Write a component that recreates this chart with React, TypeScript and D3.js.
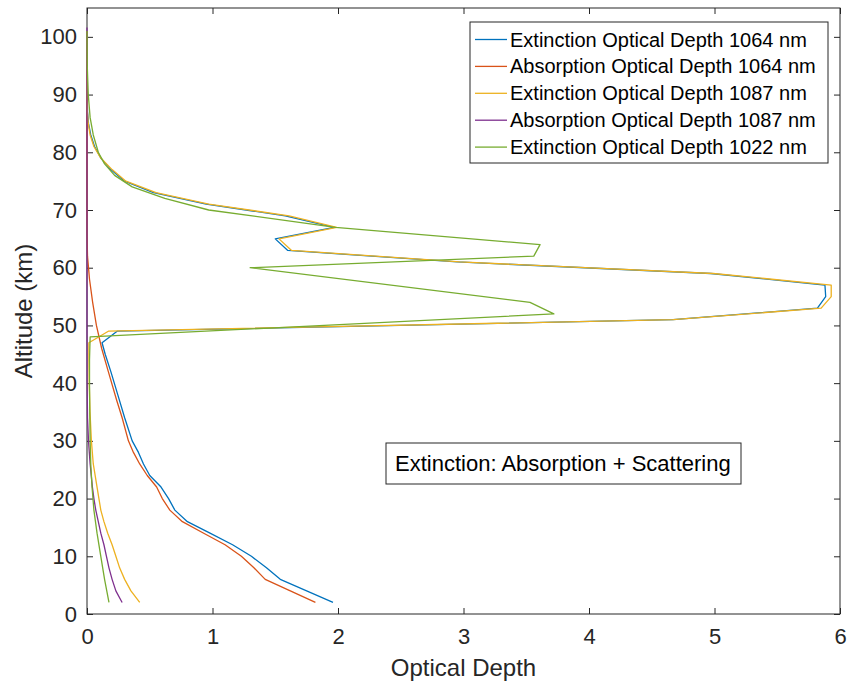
import React, { useEffect, useRef } from "react";
import * as d3 from "d3";

// [altitude km, optical depth]
const ext1064: [number, number][] = [
  [2, 1.96], [4, 1.75], [6, 1.54], [8, 1.43], [10, 1.31], [12, 1.16], [14, 0.98],
  [16, 0.8], [18, 0.7], [20, 0.65], [22, 0.59], [24, 0.5], [26, 0.45], [28, 0.41],
  [30, 0.36], [34, 0.3], [38, 0.245], [42, 0.19], [45, 0.145], [47, 0.12], [49, 0.24],
  [51, 4.67], [53, 5.82], [55, 5.886], [57, 5.88], [59, 4.97], [61, 2.95], [63, 1.6],
  [65, 1.5], [67, 1.97], [69, 1.58], [71, 0.95], [73, 0.53], [75, 0.3], [77, 0.19],
  [79, 0.11], [81, 0.06], [83, 0.03], [85, 0.012], [87, 0.004], [90, 0.001], [95, 0], [101, 0],
];
const abs1064: [number, number][] = [
  [2, 1.82], [4, 1.62], [6, 1.42], [8, 1.33], [10, 1.23], [12, 1.1], [14, 0.93],
  [16, 0.76], [18, 0.66], [20, 0.6], [22, 0.555], [24, 0.48], [26, 0.42], [28, 0.37],
  [30, 0.33], [34, 0.28], [37, 0.237], [42, 0.17], [46, 0.117], [50, 0.075], [54, 0.045],
  [58, 0.02], [62, 0.004], [66, 0], [101, 0],
];
const ext1087: [number, number][] = [
  [2, 0.42], [4, 0.35], [6, 0.3], [8, 0.26], [10, 0.23], [12, 0.2], [14, 0.165],
  [16, 0.135], [18, 0.11], [20, 0.095], [22, 0.08], [26, 0.05], [30, 0.035], [35, 0.024],
  [40, 0.018], [45, 0.015], [47, 0.015], [49, 0.17], [51, 4.67], [53, 5.85], [55, 5.93],
  [57, 5.93], [59, 4.99], [61, 2.97], [63, 1.63], [65, 1.53], [67, 1.99], [69, 1.61],
  [71, 0.97], [73, 0.55], [75, 0.31], [77, 0.2], [79, 0.11], [81, 0.055], [83, 0.025],
  [85, 0.01], [87, 0.003], [90, 0], [101, 0],
];
const abs1087: [number, number][] = [
  [2, 0.28], [4, 0.23], [6, 0.2], [8, 0.175], [10, 0.155], [12, 0.135], [14, 0.11],
  [16, 0.09], [18, 0.07], [20, 0.055], [22, 0.043], [26, 0.025], [30, 0.012], [34, 0.004],
  [40, 0.001], [50, 0], [101.6, 0],
];
const ext1022: [number, number][] = [
  [2, 0.175], [6, 0.14], [10, 0.11], [14, 0.08], [18, 0.055], [22, 0.04], [26, 0.03],
  [30, 0.025], [35, 0.022], [40, 0.02], [44, 0.02], [48, 0.025], [52, 3.72], [54, 3.53],
  [60, 1.3], [62, 3.56], [64, 3.61], [67, 1.98], [70, 0.97], [72, 0.62], [74, 0.36],
  [76, 0.22], [78, 0.14], [80, 0.09], [83, 0.05], [86, 0.025], [90, 0.01], [95, 0.002], [101, 0],
];

const seriesNames = [
  "Extinction Optical Depth 1064 nm",
  "Absorption Optical Depth 1064 nm",
  "Extinction Optical Depth 1087 nm",
  "Absorption Optical Depth 1087 nm",
  "Extinction Optical Depth 1022 nm",
];
const seriesColors = ["#0072BD", "#D95319", "#EDB120", "#7E2F8E", "#77AC30"];
const seriesData = [ext1064, abs1064, ext1087, abs1087, ext1022];

const xTicks = [0, 1, 2, 3, 4, 5, 6];
const yTicks = [0, 10, 20, 30, 40, 50, 60, 70, 80, 90, 100];

const FONT = "'Liberation Sans', Arial, Helvetica, sans-serif";
const INK = "#262626";

export default function App() {
  const ref = useRef<SVGSVGElement>(null);

  useEffect(() => {
    const width = 849;
    const height = 687;
    const margin = { top: 8, right: 9, bottom: 73, left: 87 };
    const svg = d3.select(ref.current).attr("width", width).attr("height", height);
    svg.selectAll("*").remove();

    const x = d3.scaleLinear().domain([0, 6]).range([margin.left, width - margin.right]);
    const y = d3.scaleLinear().domain([0, 105]).range([height - margin.bottom, margin.top]);

    svg.append("rect").attr("width", width).attr("height", height).attr("fill", "#ffffff");

    // clip a little wider on the left so lines sitting at x=0 show over the axis
    svg
      .append("clipPath")
      .attr("id", "plot-clip")
      .append("rect")
      .attr("x", margin.left - 3)
      .attr("y", margin.top)
      .attr("width", width - margin.left - margin.right + 3)
      .attr("height", height - margin.top - margin.bottom);

    // axes, ticks pointing inward on all four sides
    const styleAxis = (g: any) => {
      g.select(".domain").remove();
      g.selectAll("line").attr("stroke", INK);
      g.selectAll("text").attr("fill", INK).attr("font-family", FONT).attr("font-size", 22);
    };

    svg
      .append("g")
      .attr("transform", `translate(0,${y(0)})`)
      .call(d3.axisBottom(x).tickValues(xTicks).tickSizeInner(-6).tickSizeOuter(0).tickPadding(14).tickFormat(d3.format("d")))
      .call(styleAxis);
    svg
      .append("g")
      .attr("transform", `translate(0,${y(105)})`)
      .call(d3.axisTop(x).tickValues(xTicks).tickSizeInner(-6).tickSizeOuter(0).tickFormat(() => ""))
      .call(styleAxis);
    svg
      .append("g")
      .attr("transform", `translate(${x(0)},0)`)
      .call(d3.axisLeft(y).tickValues(yTicks).tickSizeInner(-6).tickSizeOuter(0).tickPadding(10).tickFormat(d3.format("d")))
      .call(styleAxis);
    svg
      .append("g")
      .attr("transform", `translate(${x(6)},0)`)
      .call(d3.axisRight(y).tickValues(yTicks).tickSizeInner(-6).tickSizeOuter(0).tickFormat(() => ""))
      .call(styleAxis);

    // box
    svg
      .append("rect")
      .attr("x", x(0))
      .attr("y", y(105))
      .attr("width", x(6) - x(0))
      .attr("height", y(0) - y(105))
      .attr("fill", "none")
      .attr("stroke", INK)
      .attr("stroke-width", 1);

    // lines
    const line = d3
      .line<[number, number]>()
      .x((d) => x(d[1]))
      .y((d) => y(d[0]));

    const plot = svg.append("g").attr("clip-path", "url(#plot-clip)");
    seriesData.forEach((s, i) => {
      plot
        .append("path")
        .datum(s)
        .attr("d", line)
        .attr("fill", "none")
        .attr("stroke", seriesColors[i])
        .attr("stroke-width", 1.3)
        .attr("stroke-linejoin", "round");
    });

    // axis labels
    svg
      .append("text")
      .attr("x", (x(0) + x(6)) / 2)
      .attr("y", 676)
      .attr("text-anchor", "middle")
      .attr("font-family", FONT)
      .attr("font-size", 24)
      .attr("fill", INK)
      .text("Optical Depth");
    svg
      .append("text")
      .attr("transform", `translate(32,${(y(0) + y(105)) / 2}) rotate(-90)`)
      .attr("text-anchor", "middle")
      .attr("font-family", FONT)
      .attr("font-size", 24)
      .attr("fill", INK)
      .text("Altitude (km)");

    // legend
    const lg = svg.append("g").attr("transform", "translate(470,22)");
    lg.append("rect")
      .attr("width", 358)
      .attr("height", 141)
      .attr("fill", "#ffffff")
      .attr("stroke", INK)
      .attr("stroke-width", 1);
    seriesNames.forEach((name, i) => {
      const cy = 17.5 + i * 26.9;
      lg.append("line")
        .attr("x1", 5)
        .attr("x2", 37)
        .attr("y1", cy)
        .attr("y2", cy)
        .attr("stroke", seriesColors[i])
        .attr("stroke-width", 1.3);
      lg.append("text")
        .attr("x", 40)
        .attr("y", cy + 7)
        .attr("font-family", FONT)
        .attr("font-size", 20)
        .attr("fill", "#000000")
        .text(name);
    });

    // annotation
    const an = svg.append("g").attr("transform", "translate(386,443)");
    an.append("rect")
      .attr("width", 355)
      .attr("height", 41)
      .attr("fill", "#ffffff")
      .attr("stroke", INK)
      .attr("stroke-width", 1);
    an.append("text")
      .attr("x", 9)
      .attr("y", 28)
      .attr("font-family", FONT)
      .attr("font-size", 22)
      .attr("fill", "#000000")
      .text("Extinction: Absorption + Scattering");
  }, []);

  return <svg ref={ref} style={{ position: "absolute", left: 0, top: 0 }} />;
}
